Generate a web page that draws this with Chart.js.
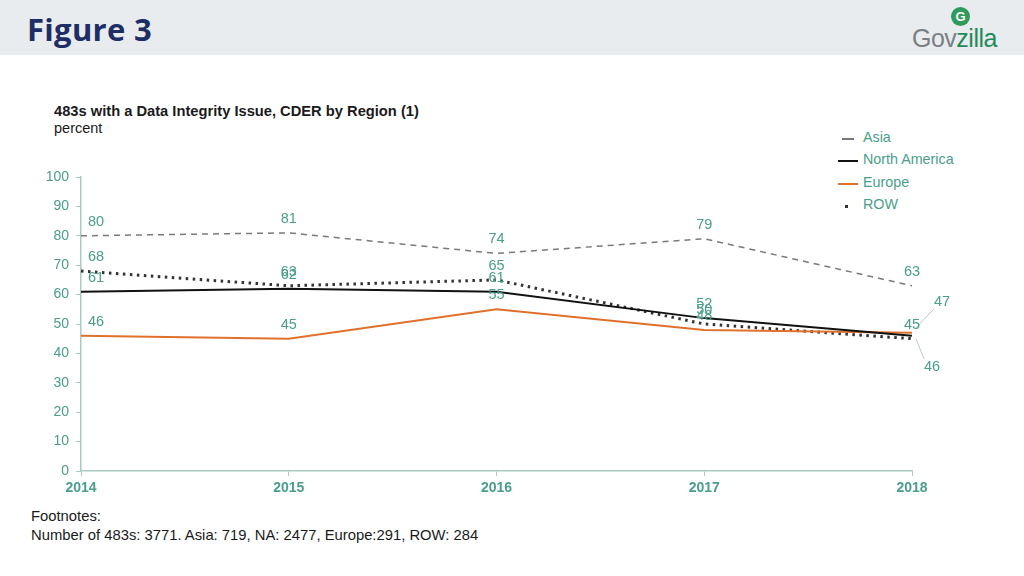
<!DOCTYPE html>
<html>
<head>
<meta charset="utf-8">
<script src="https://cdn.jsdelivr.net/npm/chart.js@4/dist/chart.umd.min.js"></script>
<style>
  body { margin: 0; width: 1024px; height: 576px; background: #fff; font-family: "Liberation Sans", Arial, sans-serif; position: relative; overflow: hidden; }
  #header { position: absolute; left: 0; top: 0; width: 1024px; height: 55px; background: #e9ecee; }
  #fig { position: absolute; left: 27px; top: 8px; font-family: "Open Sans", sans-serif; font-weight: 700; font-size: 31px; color: #1e2d66; letter-spacing: 0.3px; }
  #logo { position: absolute; left: 912px; top: 24px; font-family: "Liberation Sans", Arial, sans-serif; font-size: 25px; color: #7b7f84; letter-spacing: -0.5px; }
  #logo span { color: #1f8a5a; }
  #gdot { position: absolute; left: 951px; top: 7px; width: 19px; height: 19px; border-radius: 50%; background: #2e9a5c; color: #fff; font: bold 13px Arial; text-align: center; line-height: 19px; }
  #title { position: absolute; left: 54px; top: 103px; font-size: 14.7px; font-weight: bold; color: #1a1a1a; }
  #unit { position: absolute; left: 54px; top: 120px; font-size: 14.5px; color: #1a1a1a; }
  #foot { position: absolute; left: 31px; top: 507px; font-size: 14.8px; line-height: 19px; color: #1a1a1a; }
  #legend { position: absolute; left: 836px; top: 129px; font-size: 14.3px; color: #4a9e8c; }
  #legend div { height: 22.3px; position: relative; padding-left: 27px; }
  #legend i { position: absolute; left: 2px; top: 9px; width: 20px; height: 0; }
  #chartbox { position: absolute; left: 0; top: 0; width: 1024px; height: 576px; }
</style>
</head>
<body>
<div id="header"></div>
<div id="fig">Figure 3</div>
<div id="gdot">G</div>
<div id="logo">Gov<span>zilla</span></div>
<div id="title">483s with a Data Integrity Issue, CDER by Region (1)</div>
<div id="unit">percent</div>
<div id="legend">
  <div><i style="border-top:2px dashed #777;width:12px;left:6px"></i>Asia</div>
  <div><i style="border-top:2.5px solid #111"></i>North America</div>
  <div><i style="border-top:2.5px solid #e0712c"></i>Europe</div>
  <div><i style="border-top:3px dotted #333;width:3px;left:9px"></i>ROW</div>
</div>
<div id="foot">Footnotes:<br>Number of 483s: 3771. Asia: 719, NA: 2477, Europe:291, ROW: 284</div>
<div id="chartbox"><canvas id="chart" width="1024" height="576"></canvas></div>
<script>
// chart values
const years = ['2014', '2015', '2016', '2017', '2018'];
const asia = [80, 81, 74, 79, 63];
const northAmerica = [61, 62, 61, 52, 46];
const europe = [46, 45, 55, 48, 47];
const row = [68, 63, 65, 50, 45];
const yTicks = [0, 10, 20, 30, 40, 50, 60, 70, 80, 90, 100];

const teal = '#4a9e8c';
const axisColor = '#a9cbc3';

// labels above each point, with a couple of leader lines at 2018
const pointLabels = {
    id: 'pointLabels',
    afterDatasetsDraw(chart) {
        const ctx = chart.ctx;
        ctx.save();
        ctx.font = '14.5px "Liberation Sans", Arial, sans-serif';
        ctx.fillStyle = teal;
        ctx.textAlign = 'center';
        ctx.textBaseline = 'middle';
        chart.data.datasets.forEach((ds, i) => {
            const meta = chart.getDatasetMeta(i);
            meta.data.forEach((pt, j) => {
                let dx = j === 0 ? 15 : 0;
                let dy = -14;
                const lead = ds.leader && ds.leader[j];
                if (lead) {
                    dx = lead[0]; dy = lead[1];
                    ctx.strokeStyle = '#b9c9c5';
                    ctx.lineWidth = 1;
                    ctx.beginPath();
                    ctx.moveTo(pt.x + 4, pt.y + (dy < 0 ? -5 : 3));
                    ctx.lineTo(pt.x + dx - 8, pt.y + dy + (dy < 0 ? 7 : -8));
                    ctx.stroke();
                }
                ctx.fillText(ds.data[j], pt.x + dx, pt.y + dy);
            });
        });
        ctx.restore();
    }
};

new Chart(document.querySelector('#chart').getContext('2d'), {
    type: 'line',
    data: {
        labels: years,
        datasets: [
            {
                label: 'Asia',
                data: asia,
                borderColor: '#7a7a7a',
                borderWidth: 1.5,
                borderDash: [6, 5]
            },
            {
                label: 'North America',
                data: northAmerica,
                borderColor: '#111',
                borderWidth: 2,
                leader: { 4: [20, 31] }
            },
            {
                label: 'Europe',
                data: europe,
                borderColor: '#e0712c',
                borderWidth: 2,
                leader: { 4: [30, -31] }
            },
            {
                label: 'ROW',
                data: row,
                borderColor: '#333',
                borderWidth: 3,
                borderDash: [2.5, 4.5]
            }
        ]
    },
    options: {
        responsive: false,
        animation: false,
        clip: false,
        elements: { point: { radius: 0 }, line: { tension: 0 } },
        layout: { padding: { left: 0, right: 112, top: 177, bottom: 75 } },
        plugins: { legend: { display: false }, tooltip: { enabled: false } },
        scales: {
            x: {
                offset: false,
                grid: { drawOnChartArea: false, tickLength: 5, color: axisColor },
                border: { color: axisColor, width: 1.5 },
                ticks: { color: teal, padding: 4, maxRotation: 0, font: { family: '"Liberation Sans", Arial', size: 14, weight: 'bold' } },
                afterFit(s) { s.height = 30; }
            },
            y: {
                min: 0, max: 100,
                afterBuildTicks(s) { s.ticks = yTicks.map(v => ({ value: v })); },
                grid: { drawOnChartArea: false, tickLength: 5, color: axisColor },
                border: { color: axisColor, width: 1.5 },
                ticks: { color: teal, padding: 7, font: { family: '"Liberation Sans", Arial', size: 14 } },
                afterFit(s) { s.width = 81; }
            }
        }
    },
    plugins: [pointLabels]
});
</script>
</body>
</html>
